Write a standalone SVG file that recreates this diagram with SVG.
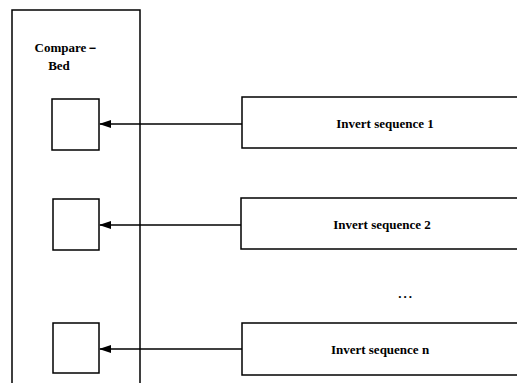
<svg xmlns="http://www.w3.org/2000/svg" width="517" height="383" viewBox="0 0 517 383">
<defs>
<style>
.ln{fill:none;stroke:#000;stroke-width:1.5}
.bx{fill:#fff;stroke:#000;stroke-width:1.5}
.t{font-family:"Liberation Serif",serif;font-size:13px;font-weight:bold;fill:#000}
</style>
<marker id="ah" markerWidth="12" markerHeight="8" refX="11" refY="4" orient="auto" markerUnits="userSpaceOnUse">
<path d="M0,0 L12,4 L0,8 Z" fill="#000"/>
</marker>
</defs>
<rect width="517" height="383" fill="#fff"/>
<g id="compare-bed">
<path class="ln" d="M12,383 L12,10 L140,10 L140,383"/>
<text class="t" x="67" y="52" text-anchor="middle">Compare－</text>
<text class="t" x="59" y="70" text-anchor="middle">Bed</text>
</g>
<g id="slot1"><rect class="bx" x="52" y="99" width="47" height="51"/></g>
<g id="slot2"><rect class="bx" x="53" y="199" width="46" height="51"/></g>
<g id="slot3"><rect class="bx" x="53" y="323" width="46" height="50"/></g>
<g id="seq1"><rect class="bx" x="242" y="97" width="290" height="51"/><text class="t" x="385" y="128" text-anchor="middle">Invert sequence 1</text></g>
<g id="seq2"><rect class="bx" x="241" y="198" width="290" height="51"/><text class="t" x="382" y="229" text-anchor="middle">Invert sequence 2</text></g>
<g id="dots"><text class="t" x="406" y="298" text-anchor="middle" letter-spacing="2">...</text></g>
<g id="seqn"><rect class="bx" x="242" y="323" width="290" height="52"/><text class="t" x="380" y="354" text-anchor="middle">Invert sequence n</text></g>
<g id="connectors">
<line class="ln" x1="242" y1="124" x2="100" y2="124" marker-end="url(#ah)"/>
<line class="ln" x1="241" y1="225" x2="100" y2="225" marker-end="url(#ah)"/>
<line class="ln" x1="242" y1="349" x2="100" y2="349" marker-end="url(#ah)"/>
</g>
</svg>
